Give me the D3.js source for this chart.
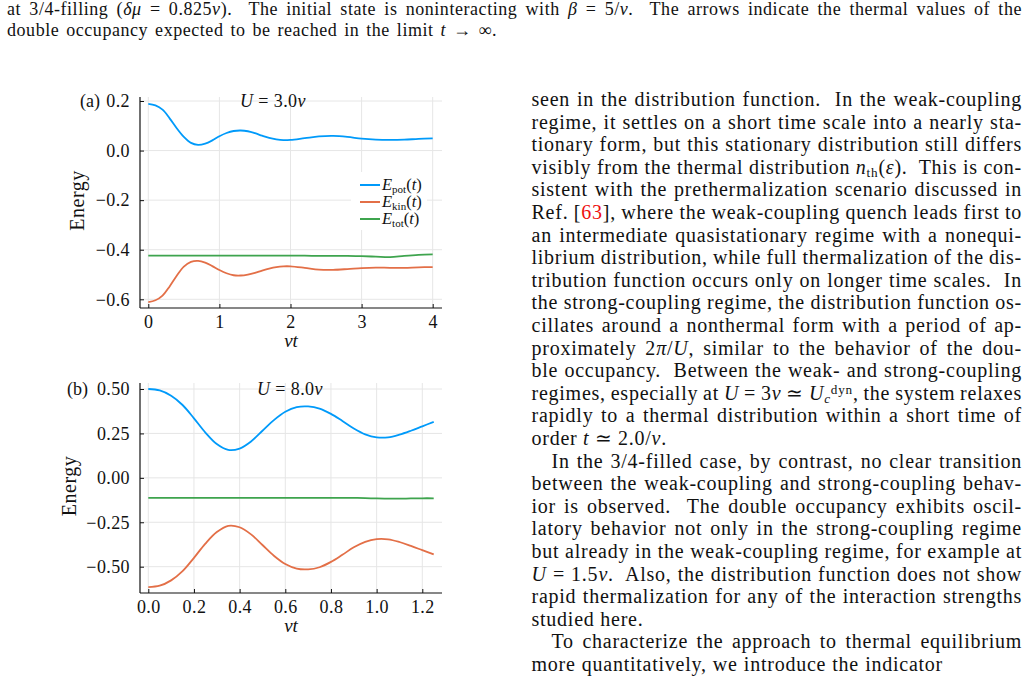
<!DOCTYPE html>
<html>
<head>
<meta charset="utf-8">
<script src="https://cdn.jsdelivr.net/npm/d3@7"></script>
<style>
  body { margin: 0; background: #fff; }
  svg text { font-family: "Liberation Serif", "Times New Roman", serif; fill: #111; }
</style>
</head>
<body>
<svg id="page" width="1029" height="683"></svg>
<script>
// ---- panel (a): U = 3.0v ----
const tA    = [0, 0.1, 0.2, 0.3, 0.4, 0.5, 0.6, 0.7, 0.8, 0.9, 1.0, 1.1, 1.2, 1.3, 1.4, 1.5, 1.6, 1.7, 1.8, 1.9, 2.0, 2.2, 2.4, 2.6, 2.8, 3.0, 3.2, 3.4, 3.6, 3.8, 4.0];
const ePotA = [0.188, 0.182, 0.165, 0.130, 0.090, 0.055, 0.031, 0.023, 0.028, 0.041, 0.058, 0.071, 0.079, 0.081, 0.078, 0.070, 0.060, 0.051, 0.045, 0.042, 0.043, 0.050, 0.057, 0.059, 0.055, 0.048, 0.044, 0.043, 0.044, 0.047, 0.049];
const eKinA = [-0.611, -0.604, -0.585, -0.548, -0.505, -0.468, -0.449, -0.445, -0.452, -0.466, -0.482, -0.495, -0.503, -0.504, -0.500, -0.493, -0.484, -0.476, -0.470, -0.467, -0.467, -0.473, -0.480, -0.481, -0.478, -0.474, -0.472, -0.473, -0.473, -0.471, -0.470];
const eTotA = [-0.424, -0.424, -0.424, -0.424, -0.424, -0.424, -0.424, -0.424, -0.424, -0.424, -0.424, -0.424, -0.424, -0.424, -0.424, -0.424, -0.424, -0.424, -0.424, -0.424, -0.424, -0.424, -0.425, -0.425, -0.425, -0.426, -0.428, -0.430, -0.425, -0.421, -0.419];
const xTicksA = [0, 1, 2, 3, 4];
const yTicksA = [-0.6, -0.4, -0.2, 0.0, 0.2];

// ---- panel (b): U = 8.0v ----
const tB    = [0, 0.05, 0.10, 0.15, 0.20, 0.25, 0.30, 0.35, 0.40, 0.45, 0.50, 0.55, 0.60, 0.65, 0.70, 0.75, 0.80, 0.85, 0.90, 0.95, 1.00, 1.05, 1.10, 1.15, 1.20, 1.25];
const ePotB = [0.500, 0.492, 0.462, 0.410, 0.335, 0.255, 0.190, 0.157, 0.165, 0.205, 0.265, 0.325, 0.372, 0.398, 0.402, 0.390, 0.360, 0.320, 0.278, 0.245, 0.228, 0.228, 0.243, 0.265, 0.290, 0.315];
const eKinB = [-0.615, -0.607, -0.577, -0.525, -0.450, -0.370, -0.305, -0.270, -0.278, -0.318, -0.378, -0.438, -0.485, -0.511, -0.515, -0.503, -0.473, -0.433, -0.391, -0.360, -0.345, -0.346, -0.361, -0.383, -0.407, -0.431];
const eTotB = [-0.113, -0.113, -0.113, -0.113, -0.113, -0.113, -0.113, -0.113, -0.113, -0.113, -0.113, -0.113, -0.113, -0.113, -0.113, -0.113, -0.113, -0.113, -0.113, -0.114, -0.116, -0.117, -0.117, -0.116, -0.115, -0.115];
const xTicksB = [0, 0.2, 0.4, 0.6, 0.8, 1.0, 1.2];
const yTicksB = [-0.5, -0.25, 0.0, 0.25, 0.5];

const seriesColors = ["#009AFA", "#E36F47", "#3EA44E"];
const seriesNames = ["pot", "kin", "tot"];

// ---- page text: each line is a list of [text, flags] (i italic, s sub, p sup, r red) ----
const captionLines = [
  [["at 3/4-filling ("], ["δμ", "i"], [" = 0.825"], ["v", "i"], [").  The initial state is noninteracting with "], ["β", "i"], [" = 5/"], ["v", "i"], [".  The arrows indicate the thermal values of the"]],
  [["double occupancy expected to be reached in the limit "], ["t", "i"], [" → ∞."]]
];
const captionEnds = [1022, 497];

const bodyLines = [
  [["seen in the distribution function.  In the weak-coupling"]],
  [["regime, it settles on a short time scale into a nearly sta-"]],
  [["tionary form, but this stationary distribution still differs"]],
  [["visibly from the thermal distribution "], ["n", "i"], ["th", "s"], ["("], ["ε", "i"], [").  This is con-"]],
  [["sistent with the prethermalization scenario discussed in"]],
  [["Ref. ["], ["63", "r"], ["], where the weak-coupling quench leads first to"]],
  [["an intermediate quasistationary regime with a nonequi-"]],
  [["librium distribution, while full thermalization of the dis-"]],
  [["tribution function occurs only on longer time scales.  In"]],
  [["the strong-coupling regime, the distribution function os-"]],
  [["cillates around a nonthermal form with a period of ap-"]],
  [["proximately 2"], ["π", "i"], ["/"], ["U", "i"], [", similar to the behavior of the dou-"]],
  [["ble occupancy.  Between the weak- and strong-coupling"]],
  [["regimes, especially at "], ["U", "i"], [" = 3"], ["v", "i"], [" ≃ "], ["U", "i"], ["c", "is"], ["dyn", "p"], [", the system relaxes"]],
  [["rapidly to a thermal distribution within a short time of"]],
  [["order "], ["t", "i"], [" ≃ 2.0/"], ["v", "i"], ["."]],
  [["In the 3/4-filled case, by contrast, no clear transition"]],
  [["between the weak-coupling and strong-coupling behav-"]],
  [["ior is observed.  The double occupancy exhibits oscil-"]],
  [["latory behavior not only in the strong-coupling regime"]],
  [["but already in the weak-coupling regime, for example at"]],
  [["U", "i"], [" = 1.5"], ["v", "i"], [".  Also, the distribution function does not show"]],
  [["rapid thermalization for any of the interaction strengths"]],
  [["studied here."]],
  [["To characterize the approach to thermal equilibrium"]],
  [["more quantitatively, we introduce the indicator"]]
];
const indentRows = [16, 24];
// natural-width (non-justified) lines: paragraph ends
const bodyEnds = {15: 667, 23: 0, 25: 943};

const svg = d3.select("#page");

function addLine(x, y, segs, size, endX, spacing) {
  const t = svg.append("text").attr("x", x).attr("y", y)
    .style("font-size", size + "px").style("letter-spacing", spacing + "px")
    .attr("xml:space", "preserve");
  let shift = 0;
  segs.forEach(([str, flags = ""]) => {
    const ts = t.append("tspan").text(str);
    if (flags.includes("i")) ts.style("font-style", "italic");
    if (flags.includes("r")) ts.style("fill", "#ee1111");
    let target = 0;
    if (flags.includes("s")) target = 0.16 * size;
    if (flags.includes("p")) target = -0.3 * size;
    if (target !== shift) { ts.attr("dy", target - shift); shift = target; }
    if (flags.includes("s") || flags.includes("p")) ts.style("font-size", (0.66 * size) + "px");
  });
  if (endX) {
    const nat = t.node().getComputedTextLength();
    const spaces = segs.reduce((n, s) => n + (s[0].match(/ /g) || []).length, 0);
    if (spaces) {
      const ws = Math.max(-1, (endX - x - nat) / spaces);
      t.style("word-spacing", ws + "px");
      const after = t.node().getComputedTextLength();
      if (Math.abs(after - nat) < 0.5 && Math.abs(endX - x - nat) > 1) {
        t.style("word-spacing", null).attr("textLength", endX - x).attr("lengthAdjust", "spacing");
      }
    }
  }
  return t;
}

captionLines.forEach((segs, i) => addLine(7, 15 + i * 21, segs, 18, captionEnds[i], 0.55));
bodyLines.forEach((segs, i) => {
  const x = indentRows.includes(i) ? 551.5 : 531.5;
  const end = (i in bodyEnds) ? bodyEnds[i] : 1022;
  addLine(x, 106 + i * 22.6, segs, 20, end, 0.75);
});

// ---- panels ----
function drawPanel(p) {
  const g = svg.append("g");
  const x = d3.scaleLinear().domain(p.xDomain).range(p.xRange);
  const y = d3.scaleLinear().domain(p.yDomain).range(p.yRange);

  // grid
  g.append("g").selectAll("line").data(p.xTicks).join("line")
    .attr("x1", d => x(d)).attr("x2", d => x(d))
    .attr("y1", p.top).attr("y2", p.bottom)
    .attr("stroke", "#e6e6e6").attr("stroke-width", 1);
  g.append("g").selectAll("line").data(p.yTicks).join("line")
    .attr("x1", p.left).attr("x2", p.right)
    .attr("y1", d => y(d)).attr("y2", d => y(d))
    .attr("stroke", "#e6e6e6").attr("stroke-width", 1);

  if (p.legend) {
    g.append("rect").attr("x", 351).attr("y", 172).attr("width", 76).attr("height", 58).attr("fill", "#fff");
  }

  // curves
  const line = d3.line().curve(d3.curveCatmullRom.alpha(0.5))
    .x(d => x(d[0])).y(d => y(d[1]));
  p.series.forEach((vals, k) => {
    g.append("path").datum(p.t.map((tt, j) => [tt, vals[j]]))
      .attr("d", line).attr("fill", "none")
      .attr("stroke", seriesColors[k]).attr("stroke-width", 1.8);
  });

  // axes
  const ax = g.append("g").attr("transform", `translate(0,${p.bottom})`)
    .call(d3.axisBottom(x).tickValues(p.xTicks).tickFormat(p.xFmt).tickSizeInner(-4).tickSizeOuter(0).tickPadding(7));
  const ay = g.append("g").attr("transform", `translate(${p.left},0)`)
    .call(d3.axisLeft(y).tickValues(p.yTicks).tickFormat(p.yFmt).tickSizeInner(-4).tickSizeOuter(0).tickPadding(10));
  [ax, ay].forEach(a => {
    a.select(".domain").remove();
    a.selectAll("text").style("font-size", "18px").style("letter-spacing", "0.4px")
      .style("font-family", "'Liberation Serif', serif").attr("fill", "#111");
    a.selectAll(".tick line").attr("stroke", "#111");
  });
  g.append("line").attr("x1", p.left).attr("x2", p.left).attr("y1", p.top).attr("y2", p.bottom)
    .attr("stroke", "#111").attr("stroke-width", 1.2);
  g.append("line").attr("x1", p.left).attr("x2", p.right).attr("y1", p.bottom).attr("y2", p.bottom)
    .attr("stroke", "#111").attr("stroke-width", 1.2);

  // labels
  const mid = (p.left + p.right) / 2;
  g.append("text").attr("x", mid).attr("y", p.bottom + 39).attr("text-anchor", "middle")
    .style("font-size", "19px").style("font-style", "italic").text("vt");
  g.append("text").attr("transform", `translate(${p.yLabelX},${(p.top + p.bottom) / 2 - 2}) rotate(-90)`)
    .attr("text-anchor", "middle").style("font-size", "20px").style("letter-spacing", "0.5px").text("Energy");
  g.append("text").attr("x", p.tagX).attr("y", y(p.yDomain[1]) + 6).style("font-size", "18px").text(p.tag);
  const tt = g.append("text").attr("x", p.titleX).attr("y", p.titleY).attr("text-anchor", "middle")
    .style("font-size", "18px").style("letter-spacing", "0.4px");
  tt.append("tspan").style("font-style", "italic").text("U");
  tt.append("tspan").text(" = " + p.uVal);
  tt.append("tspan").style("font-style", "italic").text("v");

  if (p.legend) {
    seriesNames.forEach((nm, k) => {
      const ly = 185 + k * 17;
      g.append("line").attr("x1", 360).attr("x2", 380).attr("y1", ly).attr("y2", ly)
        .attr("stroke", seriesColors[k]).attr("stroke-width", 2);
      const lt = g.append("text").attr("x", 382).attr("y", ly + 5).style("font-size", "16.5px");
      lt.append("tspan").style("font-style", "italic").text("E");
      lt.append("tspan").attr("dy", 3).style("font-size", "11px").text(nm);
      lt.append("tspan").attr("dy", -3).text("(");
      lt.append("tspan").style("font-style", "italic").text("t");
      lt.append("tspan").text(")");
    });
  }
}

drawPanel({
  t: tA, series: [ePotA, eKinA, eTotA],
  xDomain: [0, 4], xRange: [148.3, 432.7],
  yDomain: [-0.6, 0.2], yRange: [299.3, 101],
  left: 140, right: 442, top: 97, bottom: 308,
  xTicks: xTicksA, yTicks: yTicksA,
  xFmt: d3.format("d"), yFmt: d3.format(".1f"),
  yLabelX: 84, tag: "(a)", tagX: 80, titleX: 273, titleY: 106.5, uVal: "3.0",
  legend: true
});
drawPanel({
  t: tB, series: [ePotB, eKinB, eTotB],
  xDomain: [0, 1.2], xRange: [148.3, 422.3],
  yDomain: [-0.5, 0.5], yRange: [566.7, 389],
  left: 140, right: 442, top: 383, bottom: 593,
  xTicks: xTicksB, yTicks: yTicksB,
  xFmt: d3.format(".1f"), yFmt: d3.format(".2f"),
  yLabelX: 76, tag: "(b)", tagX: 67, titleX: 290, titleY: 395, uVal: "8.0",
  legend: false
});
</script>
</body>
</html>
